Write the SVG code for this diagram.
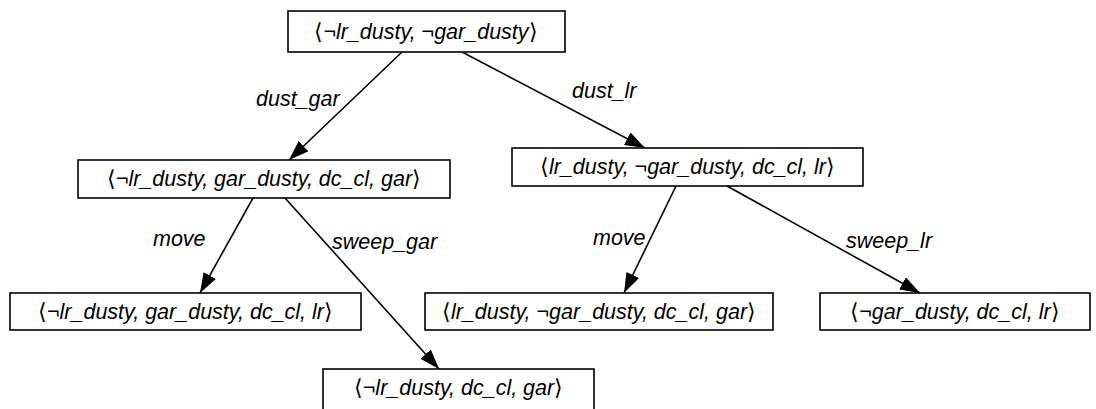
<svg xmlns="http://www.w3.org/2000/svg" width="1096" height="409" viewBox="0 0 1096 409">
<style>
.box{fill:#fff;stroke:#000;stroke-width:1.6}
.t{font-family:"Liberation Sans",Arial,sans-serif;font-style:italic;font-size:21.5px;fill:#000;text-anchor:middle}
.b{font-style:normal;font-family:"DejaVu Sans","Liberation Sans",sans-serif;font-weight:200}
.lbl{font-family:"Liberation Sans",Arial,sans-serif;font-style:italic;font-size:21.5px;fill:#000}
.e{stroke:#000;stroke-width:1.6;fill:none;marker-end:url(#ah)}
</style>
<defs>
<marker id="ah" markerUnits="userSpaceOnUse" markerWidth="24" markerHeight="16" refX="20" refY="7" orient="auto">
<path d="M0,0 L20,7 L0,14 Z" fill="#000"/>
</marker>
</defs>
<rect width="1096" height="409" fill="#fff"/>
<g id="connectors">
<line class="e" x1="402" y1="52" x2="289" y2="160"/>
<line class="e" x1="462" y1="52" x2="645" y2="148"/>
<line class="e" x1="253" y1="198" x2="200" y2="293"/>
<line class="e" x1="285" y1="198" x2="439" y2="369"/>
<line class="e" x1="676" y1="186" x2="624" y2="293"/>
<line class="e" x1="727" y1="186" x2="920" y2="293"/>
<text class="lbl" x="256" y="106">dust_gar</text>
<text class="lbl" x="572" y="98">dust_lr</text>
<text class="lbl" x="153" y="246">move</text>
<text class="lbl" x="332" y="249">sweep_gar</text>
<text class="lbl" x="593" y="245">move</text>
<text class="lbl" x="846" y="248">sweep_lr</text>
</g>
<g id="n0"><rect class="box" x="288" y="11" width="277" height="41"/><text class="t" x="426" y="39"><tspan class="b">⟨</tspan>¬lr_dusty, ¬gar_dusty<tspan class="b">⟩</tspan></text></g>
<g id="n1"><rect class="box" x="78" y="160" width="372" height="38"/><text class="t" x="264" y="186"><tspan class="b">⟨</tspan>¬lr_dusty, gar_dusty, dc_cl, gar<tspan class="b">⟩</tspan></text></g>
<g id="n2"><rect class="box" x="512" y="148" width="351" height="38"/><text class="t" x="687.5" y="174"><tspan class="b">⟨</tspan>lr_dusty, ¬gar_dusty, dc_cl, lr<tspan class="b">⟩</tspan></text></g>
<g id="n3"><rect class="box" x="10" y="293" width="351" height="37"/><text class="t" x="185.5" y="319"><tspan class="b">⟨</tspan>¬lr_dusty, gar_dusty, dc_cl, lr<tspan class="b">⟩</tspan></text></g>
<g id="n4"><rect class="box" x="425" y="293" width="348" height="37"/><text class="t" x="599" y="319"><tspan class="b">⟨</tspan>lr_dusty, ¬gar_dusty, dc_cl, gar<tspan class="b">⟩</tspan></text></g>
<g id="n5"><rect class="box" x="820" y="293" width="270" height="37"/><text class="t" x="955" y="319"><tspan class="b">⟨</tspan>¬gar_dusty, dc_cl, lr<tspan class="b">⟩</tspan></text></g>
<g id="n6"><rect class="box" x="323" y="369" width="271" height="50"/><text class="t" x="458.5" y="395"><tspan class="b">⟨</tspan>¬lr_dusty, dc_cl, gar<tspan class="b">⟩</tspan></text></g>
</svg>
